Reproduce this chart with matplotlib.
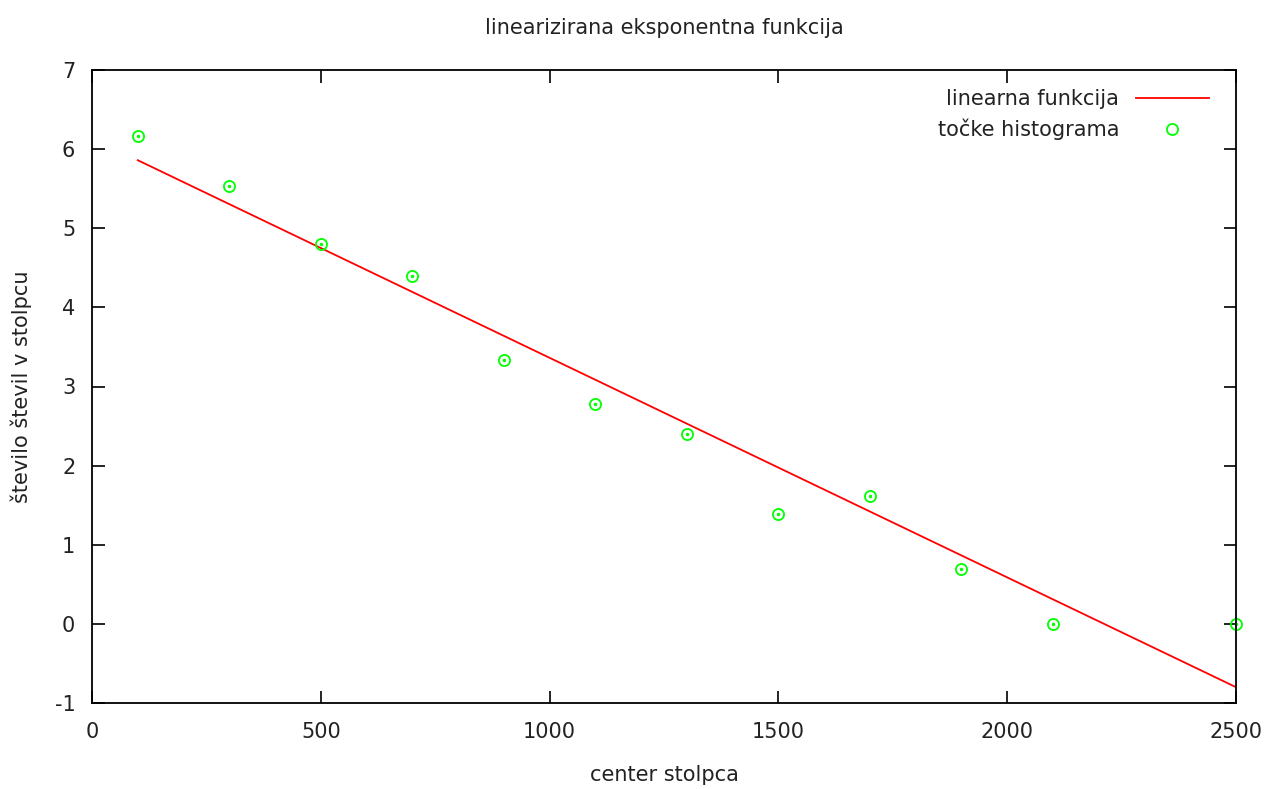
import numpy as np
import matplotlib
matplotlib.use('Agg')
from matplotlib import pyplot as plt

# histogram bin centers and log of counts
bin_centers = [100, 300, 500, 700, 900, 1100, 1300, 1500, 1700, 1900, 2100, 2500]
log_counts = [6.17, 5.54, 4.80, 4.40, 3.34, 2.78, 2.40, 1.39, 1.61, 0.69, 0.0, 0.0]

# fitted linear function
line_x = [100, 2500]
line_y = [5.86, -0.80]

plt.rcParams['font.family'] = 'DejaVu Sans'
plt.rcParams['font.size'] = 15
plt.rcParams['axes.unicode_minus'] = False

fig = plt.figure(figsize=(12.68, 7.89), dpi=100)
ax = fig.add_axes([92 / 1268, 1 - 703 / 789, (1236 - 92) / 1268, (703 - 70) / 789])

ax.plot(line_x, line_y, color='#ff0000', lw=1.3, label='linearna funkcija')
ax.plot(bin_centers, log_counts, linestyle='none', marker='o', markersize=8,
        markerfacecolor='none', markeredgecolor='#00ff00', markeredgewidth=1.3,
        label='točke histograma', clip_on=False)
ax.plot(bin_centers, log_counts, linestyle='none', marker='o', markersize=1.5,
        color='#00ff00', clip_on=False)

ax.set_xlim(0, 2500)
ax.set_ylim(-1, 7)
ax.set_xticks(range(0, 2501, 500))
ax.set_yticks(range(-1, 8))
ax.tick_params(direction='in', length=9, width=1.2, top=True, right=True,
               colors='black', labelcolor='#222222')
ax.tick_params(axis='x', pad=14)
ax.tick_params(axis='y', pad=12)
for s in ax.spines.values():
    s.set_linewidth(1.3)

ax.set_title('linearizirana eksponentna funkcija', fontsize=15, pad=26, color='#222222')
ax.set_xlabel('center stolpca', labelpad=16, color='#222222')
ax.set_ylabel('število števil v stolpcu', labelpad=16, color='#222222')

leg = ax.legend(loc='upper right', bbox_to_anchor=(1, 1 + 8 / 633), frameon=False,
                markerfirst=False, handlelength=3.5, fontsize=15, borderaxespad=0.9,
                labelspacing=0.45, handletextpad=0.8)
for t in leg.get_texts():
    t.set_ha('right')
    t.set_color('#222222')

fig.savefig('out.png', dpi=100)
